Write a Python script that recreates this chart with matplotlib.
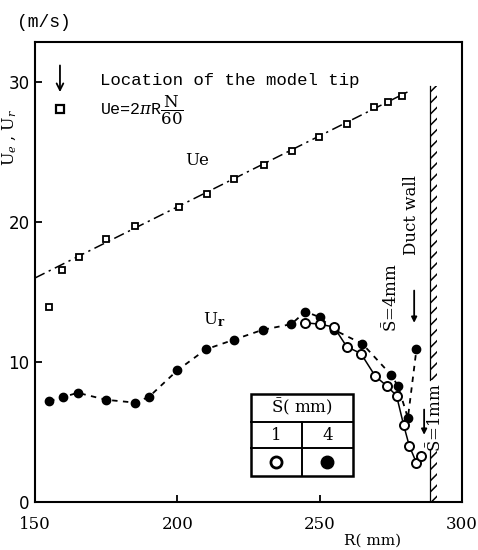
import matplotlib
matplotlib.use('Agg')
import matplotlib.pyplot as plt
from matplotlib.patches import Rectangle
from matplotlib.lines import Line2D

plt.rcParams['font.family'] = ['DejaVu Serif']
plt.rcParams['mathtext.fontset'] = 'dejavuserif'
plt.rcParams['hatch.linewidth'] = 1.1

# Ue (peripheral speed of the rotor), squares
ue_r = [155, 159.5, 165.3, 175.1, 185.3, 200.7, 210.4, 219.9, 230.4, 240.3, 249.9, 259.5, 269.2, 274.1, 279]
ue_val = [13.9, 16.6, 17.5, 18.8, 19.7, 21.1, 22.0, 23.1, 24.1, 25.1, 26.1, 27.0, 28.2, 28.6, 29.0]
# fitted line Ue = 2 pi R N / 60
ue_line_r = [150, 281]
ue_line_val = [16.0, 29.3]

# Ur, S = 4 mm (filled)
s4_r = [155, 160, 165, 175, 185, 190, 200, 210, 220, 230, 240, 245, 250, 255, 265, 275, 277.5, 281, 284]
s4_val = [7.2, 7.5, 7.8, 7.3, 7.1, 7.5, 9.4, 10.9, 11.6, 12.3, 12.7, 13.6, 13.2, 12.3, 11.3, 9.1, 8.3, 6.0, 10.9]

# Ur, S = 1 mm (open)
s1_r = [245, 250, 255, 259.5, 264.5, 269.5, 273.5, 277, 279.5, 281.5, 284, 285.5]
s1_val = [12.8, 12.7, 12.5, 11.1, 10.6, 9.0, 8.3, 7.6, 5.5, 4.0, 2.8, 3.3]

wall_r = 288.8

fig = plt.figure(figsize=(4.78, 5.5), dpi=100)
ax = fig.add_axes([0.0732, 0.0873, 0.8933, 0.8364])

mono = 'Liberation Mono'

# lines + markers
ax.plot(ue_line_r, ue_line_val, color='black', lw=1.1, linestyle=(0, (7, 3, 1.5, 3)))
ax.plot(ue_r, ue_val, linestyle='none', marker='s', ms=4.5, mfc='white', mec='black', mew=1.3)
ax.plot(s4_r, s4_val, color='black', lw=1.3, linestyle=(0, (3, 3)),
        marker='o', ms=6, mfc='black', mec='black')
ax.plot(s1_r, s1_val, color='black', lw=1.1, linestyle='-',
        marker='o', ms=6.5, mfc='white', mec='black', mew=1.4)

# duct wall (hatched)
for y0, y1 in [(8.7, 29.7), (0, 3.7)]:
    ax.add_patch(Rectangle((wall_r, y0), 2.4, y1 - y0, fill=False, hatch='///',
                           lw=0, edgecolor='black'))
    ax.plot([wall_r, wall_r], [y0, y1], color='black', lw=0.9)

ax.text(282.2, 20.5, 'Duct wall', rotation=90, ha='center', va='center', fontsize=12)
ax.text(275.2, 14.6, r'$\bar{\mathrm{S}}$=4mm', rotation=90, ha='center', va='center', fontsize=12)
ax.text(290.8, 6.0, r'$\bar{\mathrm{S}}$=1mm', rotation=90, ha='center', va='center', fontsize=12)
ax.annotate('', xy=(283.2, 12.6), xytext=(283.2, 15.3),
            arrowprops=dict(arrowstyle='-|>', color='black', lw=1.3, mutation_scale=8))
ax.annotate('', xy=(286.7, 4.6), xytext=(286.7, 6.8),
            arrowprops=dict(arrowstyle='-|>', color='black', lw=1.3, mutation_scale=8))

# curve labels
ax.text(207, 24.4, 'Ue', ha='center', va='center', fontsize=12)
ax.text(213, 13.0, r'U$_{\mathbf{r}}$', ha='center', va='center', fontsize=12)

# legend block (top-left)
ax.annotate('', xy=(0.0585, 0.885), xytext=(0.0585, 0.955), xycoords='axes fraction',
            arrowprops=dict(arrowstyle='->', color='black', lw=1.3, mutation_scale=12))
ax.text(0.152, 0.917, 'Location of the model tip', transform=ax.transAxes,
        ha='left', va='center', fontsize=12.5, family=mono)
ax.plot([0.0585], [0.855], transform=ax.transAxes, marker='s', ms=6, mfc='white',
        mec='black', mew=1.6, linestyle='none', clip_on=False)
ax.text(0.152, 0.852, r'Ue=2$\pi$R$\dfrac{\mathrm{N}}{60}$', transform=ax.transAxes,
        ha='left', va='center', fontsize=12, family=mono)

# S table
tx0, tx1, tx2 = 0.506, 0.625, 0.745
ty0, ty1, ty2, ty3 = 0.0565, 0.117, 0.174, 0.235
ax.add_patch(Rectangle((tx0, ty0), tx2 - tx0, ty3 - ty0, transform=ax.transAxes,
                       fill=False, lw=1.8, edgecolor='black'))
ax.add_line(Line2D([tx0, tx2], [ty1, ty1], transform=ax.transAxes, color='black', lw=1.4))
ax.add_line(Line2D([tx0, tx2], [ty2, ty2], transform=ax.transAxes, color='black', lw=1.4))
ax.add_line(Line2D([tx1, tx1], [ty0, ty2], transform=ax.transAxes, color='black', lw=1.4))
ax.text(tx1, (ty2 + ty3) / 2, r'$\bar{\mathrm{S}}$( mm)', transform=ax.transAxes,
        ha='center', va='center', fontsize=12)
ax.text((tx0 + tx1) / 2, (ty1 + ty2) / 2, '1', transform=ax.transAxes,
        ha='center', va='center', fontsize=12)
ax.text((tx1 + tx2) / 2, (ty1 + ty2) / 2, '4', transform=ax.transAxes,
        ha='center', va='center', fontsize=12)
ax.plot([(tx0 + tx1) / 2], [(ty0 + ty1) / 2], transform=ax.transAxes, marker='o', ms=8,
        mfc='white', mec='black', mew=2, linestyle='none')
ax.plot([(tx1 + tx2) / 2], [(ty0 + ty1) / 2], transform=ax.transAxes, marker='o', ms=9,
        mfc='black', mec='black', linestyle='none')

# axes
ax.set_xlim(150, 300)
ax.set_ylim(0, 32.86)
ax.set_xticks([150, 200, 250, 300])
ax.set_yticks([0, 10, 20, 30])
ax.set_xticklabels(['150', '200', '250', '300'], fontsize=12)
ax.set_yticklabels(['0', '10', '20', '30'], fontsize=12, family='DejaVu Sans')
ax.tick_params(direction='in', length=5, width=1.3)
ax.tick_params(axis='x', pad=10)
ax.tick_params(axis='y', pad=4)
for s in ax.spines.values():
    s.set_linewidth(1.5)

ax.text(0.79, -0.083, 'R( mm)', transform=ax.transAxes, ha='center', va='center', fontsize=11)
ax.text(0.02, 1.043, '(m/s)', transform=ax.transAxes, ha='center', va='center', fontsize=13,
        family=mono)
ax.text(-0.0585, 0.793, r'U$_e$ , U$_r$', transform=ax.transAxes, rotation=90,
        ha='center', va='center', fontsize=11.5)

fig.savefig('out.png', dpi=100)
